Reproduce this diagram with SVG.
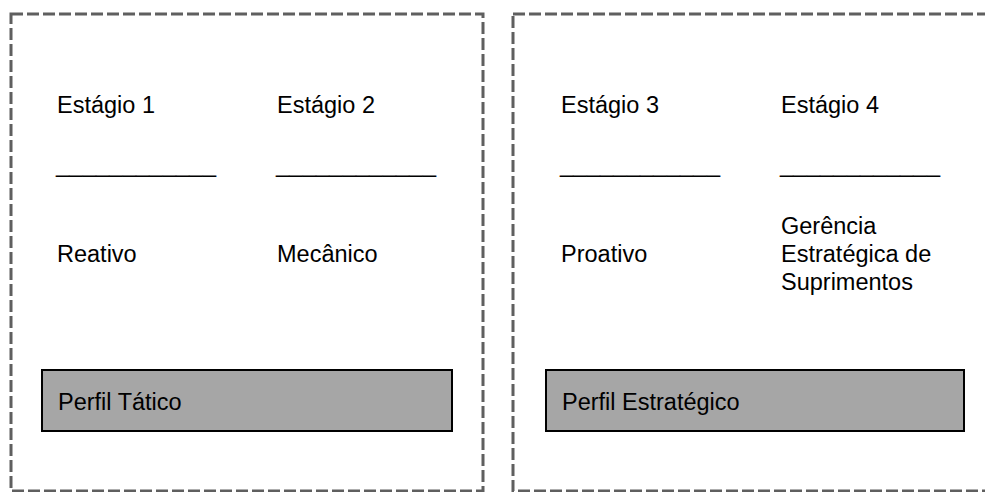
<svg xmlns="http://www.w3.org/2000/svg" width="985" height="492" viewBox="0 0 985 492">
<style>
.frame{fill:none;stroke:#5f5f5f;stroke-width:3;stroke-dasharray:12 4}
.bar{fill:#a6a6a6;stroke:#000;stroke-width:2}
text{font-family:"Liberation Sans",Arial,sans-serif;font-size:23.5px;fill:#000}
</style>
<rect width="985" height="492" fill="#fff"/>
<g id="panel-tatico">
<rect class="frame" x="11" y="14" width="472" height="477"/>
<g id="estagio1">
<text x="57" y="113">Estágio 1</text>
<text x="56" y="172" textLength="160" lengthAdjust="spacingAndGlyphs">____________</text>
<text x="57" y="262">Reativo</text>
</g>
<g id="estagio2">
<text x="277" y="113">Estágio 2</text>
<text x="276" y="172" textLength="160" lengthAdjust="spacingAndGlyphs">____________</text>
<text x="277" y="262">Mecânico</text>
</g>
<g id="perfil-tatico">
<rect class="bar" x="42" y="370" width="410" height="61"/>
<text x="58" y="410">Perfil Tático</text>
</g>
</g>
<g id="panel-estrategico">
<rect class="frame" x="513" y="14" width="490" height="477"/>
<g id="estagio3">
<text x="561" y="113">Estágio 3</text>
<text x="560" y="172" textLength="160" lengthAdjust="spacingAndGlyphs">____________</text>
<text x="561" y="262">Proativo</text>
</g>
<g id="estagio4">
<text x="781" y="113">Estágio 4</text>
<text x="780" y="172" textLength="160" lengthAdjust="spacingAndGlyphs">____________</text>
<text x="781" y="234">Gerência</text>
<text x="781" y="262">Estratégica de</text>
<text x="781" y="290">Suprimentos</text>
</g>
<g id="perfil-estrategico">
<rect class="bar" x="546" y="370" width="418" height="61"/>
<text x="562" y="410">Perfil Estratégico</text>
</g>
</g>
<g id="connectors"></g>
</svg>
